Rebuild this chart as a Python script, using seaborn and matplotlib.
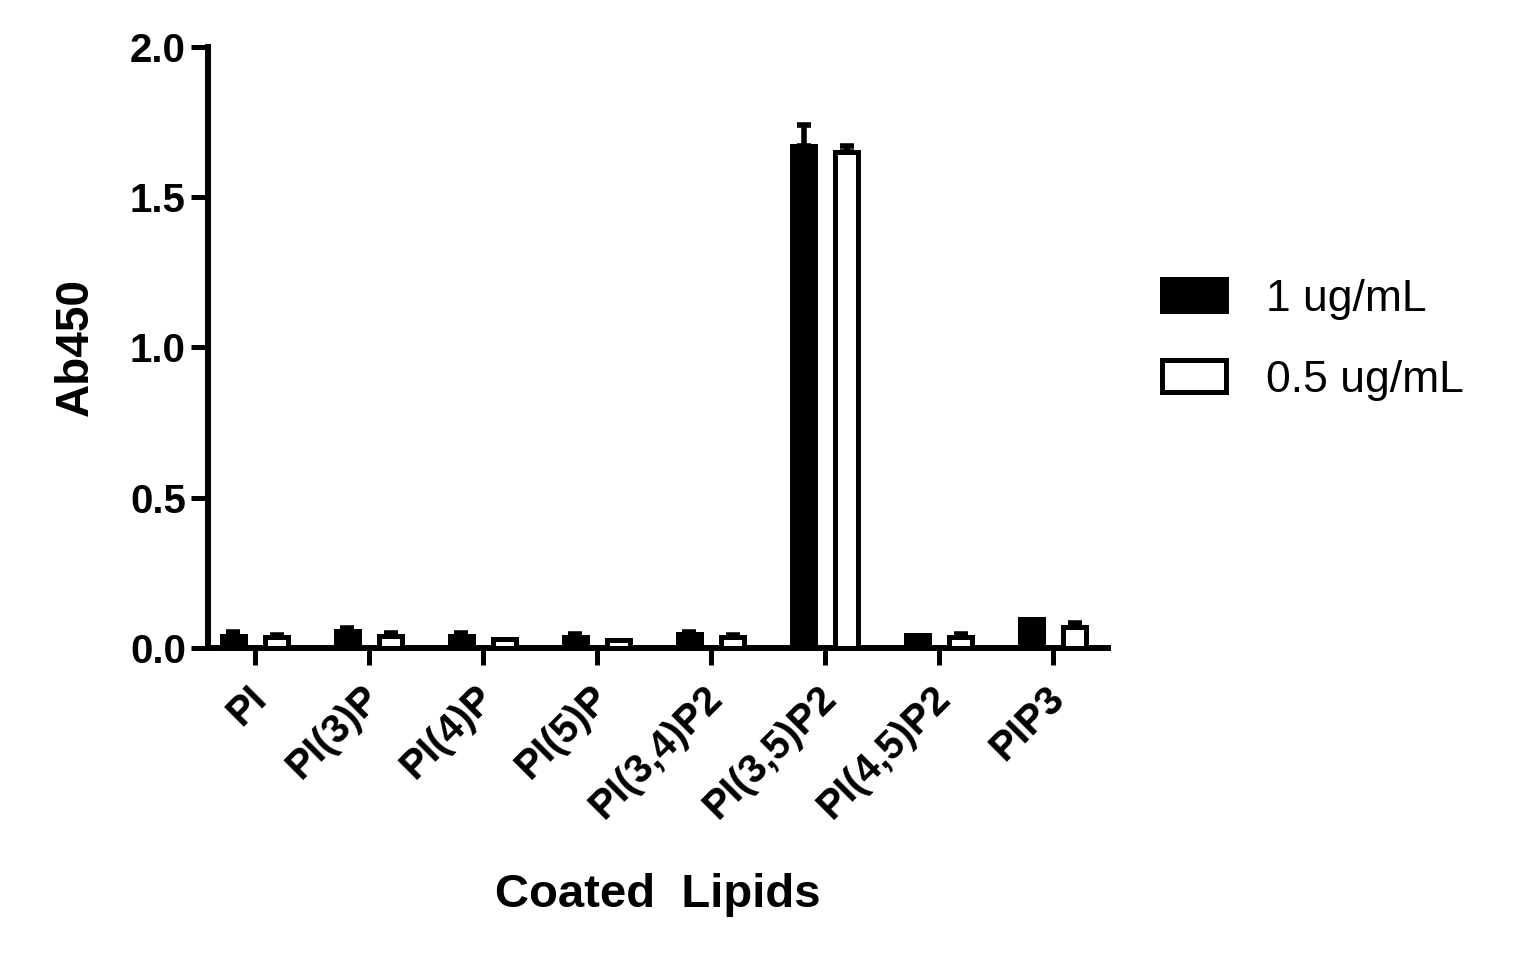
import pandas as pd
import seaborn as sns
import matplotlib
import matplotlib.pyplot as plt
import matplotlib.transforms as mtransforms

matplotlib.use("Agg")

lipids = ["PI", "PI(3)P", "PI(4)P", "PI(5)P", "PI(3,4)P2", "PI(3,5)P2", "PI(4,5)P2", "PIP3"]
conc_labels = ["1 ug/mL", "0.5 ug/mL"]
vals_1 = [0.041, 0.055, 0.040, 0.038, 0.046, 1.669, 0.043, 0.098]
err_1 = [0.011, 0.012, 0.010, 0.008, 0.008, 0.070, 0.0, 0.0]
vals_05 = [0.035, 0.040, 0.030, 0.028, 0.036, 1.649, 0.038, 0.069]
err_05 = [0.008, 0.010, 0.0, 0.0, 0.006, 0.020, 0.008, 0.013]

df = pd.DataFrame({
    "lipid": lipids * 2,
    "conc": [conc_labels[0]] * len(lipids) + [conc_labels[1]] * len(lipids),
    "value": vals_1 + vals_05,
})

sns.set_style("ticks")
plt.rcParams["font.family"] = ["Liberation Sans", "DejaVu Sans"]
plt.rcParams["font.weight"] = "bold"
for k in ["text.color", "axes.labelcolor", "axes.edgecolor", "xtick.color", "ytick.color"]:
    plt.rcParams[k] = "black"

fig = plt.figure(figsize=(15.16, 9.68), dpi=100)
ax = fig.add_axes([0.1372, 0.3306, 0.5937, 0.6209])

sns.barplot(data=df, x="lipid", y="value", hue="conc", palette=["black", "white"],
            edgecolor="black", linewidth=3.6, width=0.76, gap=0.47,
            errorbar=None, ax=ax, zorder=3)

# error bars (upper only, like GraphPad)
for cont, errs in zip(ax.containers, [err_1, err_05]):
    for bar, e in zip(cont, errs):
        if e <= 0:
            continue
        x = bar.get_x() + bar.get_width() / 2
        h = bar.get_height()
        ax.errorbar([x], [h], yerr=[[0], [e]], fmt="none", ecolor="black",
                    elinewidth=4, capsize=5, capthick=4, zorder=2)

ax.set_ylim(0, 2.0)
ax.set_xlim(-0.412, 7.48)
ax.set_yticks([0, 0.5, 1.0, 1.5, 2.0])
ax.set_yticklabels(["0.0", "0.5", "1.0", "1.5", "2.0"])
ax.tick_params(axis="both", width=3.6, length=12, labelsize=29, direction="out")
ax.tick_params(axis="y", pad=4)
ax.tick_params(axis="x", pad=10)
shift = mtransforms.ScaledTranslation(-6 / 72, 0, fig.dpi_scale_trans)
for lab in ax.get_xticklabels():
    lab.set_rotation(45)
    lab.set_ha("right")
    lab.set_rotation_mode("anchor")
    lab.set_fontweight("bold")
    lab.set_transform(lab.get_transform() + shift)
plt.setp(ax.get_yticklabels(), fontweight="bold")

for side in ["top", "right"]:
    ax.spines[side].set_visible(False)
for side in ["left", "bottom"]:
    ax.spines[side].set_linewidth(4.3)

ax.set_xlabel("Coated  Lipids", fontsize=34, fontweight="bold")
ax.set_ylabel("Ab450", fontsize=33, fontweight="bold")
ax.xaxis.set_label_coords(0.5, -0.374)
ax.yaxis.set_label_coords(-0.122, 0.5)

handles, labels = ax.get_legend_handles_labels()
ax.get_legend().remove()
fig.legend(handles, labels, loc="upper left", bbox_to_anchor=(0.7665, 0.712),
           frameon=False, prop={"weight": "normal", "size": 32},
           handlelength=1.43, handleheight=0.72, handletextpad=0.9,
           labelspacing=0.9, borderpad=0, borderaxespad=0)

fig.savefig("out.png", dpi=100)
